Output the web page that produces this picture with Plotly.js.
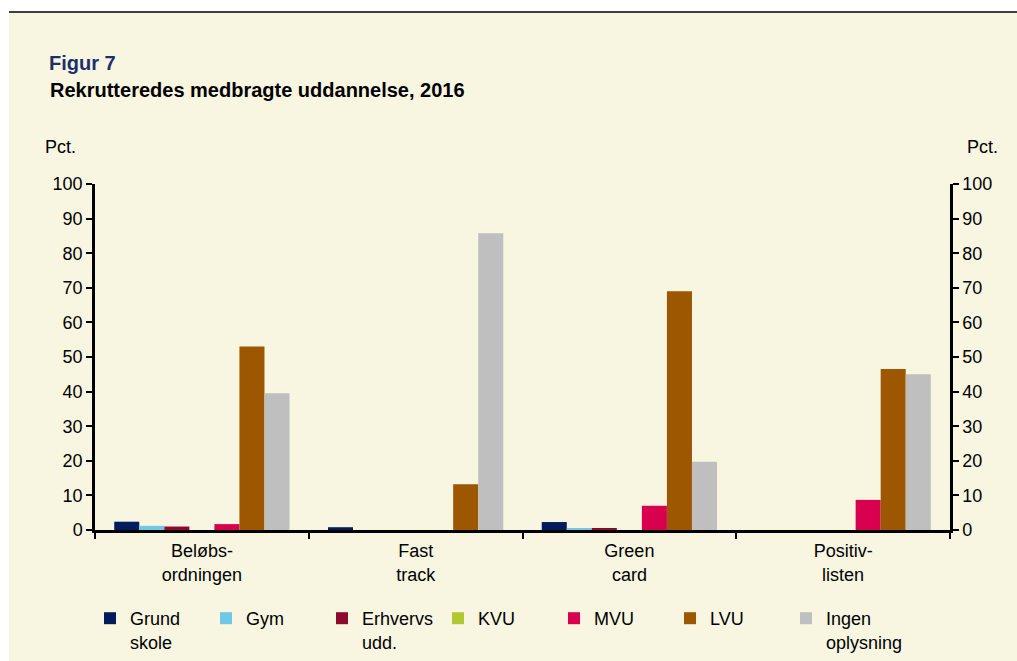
<!DOCTYPE html>
<html>
<head>
<meta charset="utf-8">
<script src="https://cdn.plot.ly/plotly-3.0.1.min.js"></script>
<style>
html,body{margin:0;padding:0;background:#ffffff;}
#chart{width:1017px;height:661px;}
</style>
</head>
<body>
<div id="chart"></div>
<script>
var categories = ["Beløbs-<br>ordningen", "Fast<br>track", "Green<br>card", "Positiv-<br>listen"];
var seriesNames = ["Grund<br>skole", "Gym", "Erhvervs<br>udd.", "KVU", "MVU", "LVU", "Ingen<br>oplysning"];
var grundskole = [2.4, 0.8, 2.3, 0];
var gym = [1.2, 0, 0.3, 0];
var erhvervs = [1.0, 0, 0.5, 0];
var kvu = [0, 0, 0, 0];
var mvu = [1.7, 0, 7.0, 8.7];
var lvu = [53.0, 13.2, 69.0, 46.5];
var ingen = [39.5, 85.8, 19.7, 45.0];
var yTicks = [0, 10, 20, 30, 40, 50, 60, 70, 80, 90, 100];

var seriesValues = [grundskole, gym, erhvervs, kvu, mvu, lvu, ingen];
var colors = ["#001c5c", "#6ec8e8", "#8c0a2e", "#b2c832", "#d8004f", "#9c5700", "#bfbfbf"];

var FONT = "Arial, 'Liberation Sans', sans-serif";
var FS = 18;
var traces = seriesNames.map(function(n, i){
  return {type:"bar", name:n, x:categories, y:seriesValues[i],
    marker:{color:colors[i], line:{width:0}}, hoverinfo:"x+y+name"};
});
// invisible trace to activate right axis
traces.push({type:"scatter", x:[categories[0]], y:[0], yaxis:"y2", mode:"none", showlegend:false, hoverinfo:"skip"});

var L = 95, R = 950, T = 184, B = 530, W = 1017, H = 661;
function px(x){ return (x - L) / (R - L); }
function py(y){ return (B - y) / (B - T); }

var axisY = {range:[0,100], tickvals:yTicks, ticks:"outside", ticklen:6, tickwidth:2, tickcolor:"#000",
  showline:true, linecolor:"#000", linewidth:2.5, showgrid:false, zeroline:false, automargin:false,
  tickfont:{family:FONT, size:FS, color:"#000"}, fixedrange:true};

var layout = {
  width:W, height:H,
  margin:{l:L, r:W-R, t:T, b:H-B, autoexpand:false},
  paper_bgcolor:"#ffffff",
  plot_bgcolor:"rgba(0,0,0,0)",
  font:{family:FONT, size:FS, color:"#000"},
  barmode:"group", bargap:0.18, bargroupgap:0,
  title:{text:"<b>Figur 7</b>", font:{family:FONT, size:20, color:"#1d2f6b"},
    x:49/W, xanchor:"left", xref:"container", y:1-63/H, yanchor:"middle", yref:"container"},
  xaxis:{type:"category", showline:true, linecolor:"#000", linewidth:2.5, ticks:"outside",
    tickson:"boundaries", ticklen:6, tickwidth:2, tickcolor:"#000", showgrid:false, automargin:false,
    ticklabelstandoff:3,
    tickfont:{family:FONT, size:FS, color:"#000"}, fixedrange:true},
  yaxis:axisY,
  yaxis2:Object.assign({}, axisY, {overlaying:"y", side:"right"}),
  showlegend:true,
  legend:{orientation:"h", x:px(90), xanchor:"left", y:py(600), yanchor:"top",
    entrywidth:71, entrywidthmode:"pixels", valign:"top", traceorder:"normal",
    bgcolor:"rgba(0,0,0,0)", font:{family:FONT, size:FS, color:"#000"}, itemclick:false},
  shapes:[
    {type:"rect", xref:"paper", yref:"paper", x0:px(9), x1:px(W+2), y0:py(H+2), y1:py(12),
      fillcolor:"#f8f6e0", line:{width:0}, layer:"below"},
    {type:"line", xref:"paper", yref:"paper", x0:px(9), x1:px(W+2), y0:py(12), y1:py(12),
      line:{color:"#000", width:1.5}}
  ],
  annotations:[
    {text:"<b>Rekrutteredes medbragte uddannelse, 2016</b>", xref:"paper", yref:"paper",
      x:px(48), y:py(90), xanchor:"left", yanchor:"middle", showarrow:false,
      font:{family:FONT, size:20, color:"#000"}},
    {text:"Pct.", xref:"paper", yref:"paper", x:px(43), y:py(147), xanchor:"left", yanchor:"middle",
      showarrow:false, font:{family:FONT, size:FS, color:"#000"}},
    {text:"Pct.", xref:"paper", yref:"paper", x:px(965), y:py(147), xanchor:"left", yanchor:"middle",
      showarrow:false, font:{family:FONT, size:FS, color:"#000"}}
  ]
};

Plotly.newPlot("chart", traces, layout, {displayModeBar:false, staticPlot:false});
</script>
</body>
</html>
